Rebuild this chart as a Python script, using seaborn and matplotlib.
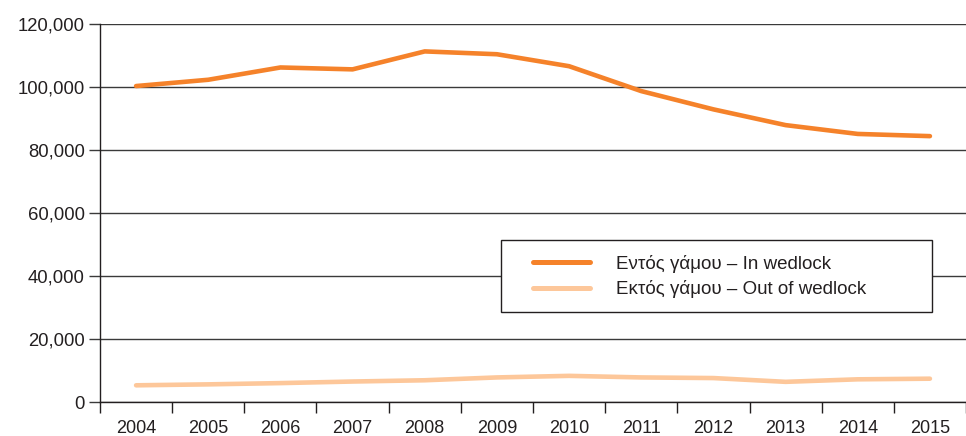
"""Live births in and out of wedlock, 2004-2015."""

import matplotlib as mpl
import matplotlib.pyplot as plt
import numpy as np
import pandas as pd
import seaborn as sns
from matplotlib.patches import Rectangle
from matplotlib.ticker import FuncFormatter

mpl.use("Agg")

YEARS = ["2004", "2005", "2006", "2007", "2008", "2009", "2010", "2011", "2012", "2013", "2014", "2015"]
IN_WEDLOCK = [100300, 102300, 106200, 105600, 111300, 110400, 106600, 98700, 92900, 87900, 85100, 84400]
OUT_OF_WEDLOCK = [5300, 5600, 6000, 6500, 6900, 7800, 8300, 7800, 7600, 6400, 7200, 7400]

LABEL_IN = "Εντός γάμου – In wedlock"
LABEL_OUT = "Εκτός γάμου – Out of wedlock"

COLORS = {LABEL_IN: "#f5822a", LABEL_OUT: "#fdc79a"}
TEXT_COLOR = "#231f20"


def build_frame() -> pd.DataFrame:
    return pd.concat(
        [
            pd.DataFrame({"year": YEARS, "births": IN_WEDLOCK, "series": LABEL_IN}),
            pd.DataFrame({"year": YEARS, "births": OUT_OF_WEDLOCK, "series": LABEL_OUT}),
        ],
        ignore_index=True,
    )


def main() -> None:
    sns.set_style("white")
    plt.rcParams["font.family"] = ["Liberation Sans", "DejaVu Sans"]
    plt.rcParams["text.color"] = TEXT_COLOR

    df = build_frame()

    fig = plt.figure(figsize=(9.66, 4.36), dpi=100)
    ax = fig.add_axes([100 / 966, 34 / 436, 866 / 966, 378 / 436])

    sns.lineplot(data=df, x="year", y="births", hue="series", palette=COLORS, linewidth=3.3, ax=ax, legend=False)

    ax.set_xlim(-0.5, len(YEARS) - 0.5)
    ax.set_ylim(0, 120000)
    ax.set_yticks(np.arange(0, 120001, 20000))
    ax.yaxis.set_major_formatter(FuncFormatter(lambda v, _: f"{int(v):,}"))
    ax.grid(axis="y", color="#3a3a3a", linewidth=1.0)
    ax.set_axisbelow(True)

    # boundaries between years carry the tick marks, labels sit in the middle
    ax.set_xticks(np.arange(-0.5, len(YEARS)), labels=[""] * (len(YEARS) + 1))
    ax.set_xticks(np.arange(len(YEARS)), labels=YEARS, minor=True)
    ax.tick_params(axis="x", which="major", direction="out", length=8, width=1, color="#231f20", bottom=True)
    ax.tick_params(axis="x", which="minor", length=0, pad=13, labelsize=13, labelcolor=TEXT_COLOR)
    ax.tick_params(axis="y", direction="out", length=8, width=1, color="#3a3a3a", pad=3, labelsize=13.3, labelcolor=TEXT_COLOR, left=True)

    ax.set_xlabel("")
    ax.set_ylabel("")
    sns.despine(ax=ax, top=True, right=True)
    for side in ("left", "bottom"):
        ax.spines[side].set_color("#231f20")
        ax.spines[side].set_linewidth(1.0)

    # legend box drawn on its own so the inner padding can match the original
    box = Rectangle(
        (401 / 866, 90 / 378),
        431 / 866,
        72 / 378,
        transform=ax.transAxes,
        facecolor="white",
        edgecolor="#231f20",
        linewidth=1.0,
        zorder=4,
    )
    ax.add_patch(box)

    handles = [plt.Line2D([], [], color=COLORS[name], linewidth=3.6) for name in (LABEL_IN, LABEL_OUT)]
    legend = ax.legend(
        handles,
        [LABEL_IN, LABEL_OUT],
        loc="center left",
        bbox_to_anchor=(433 / 866, 125.5 / 378),
        frameon=False,
        fontsize=13.5,
        handlelength=3.05,
        handletextpad=1.35,
        borderpad=0,
        labelspacing=0.42,
        borderaxespad=0,
    )
    legend.set_zorder(5)

    fig.savefig("out.png", dpi=100)


if __name__ == "__main__":
    main()
